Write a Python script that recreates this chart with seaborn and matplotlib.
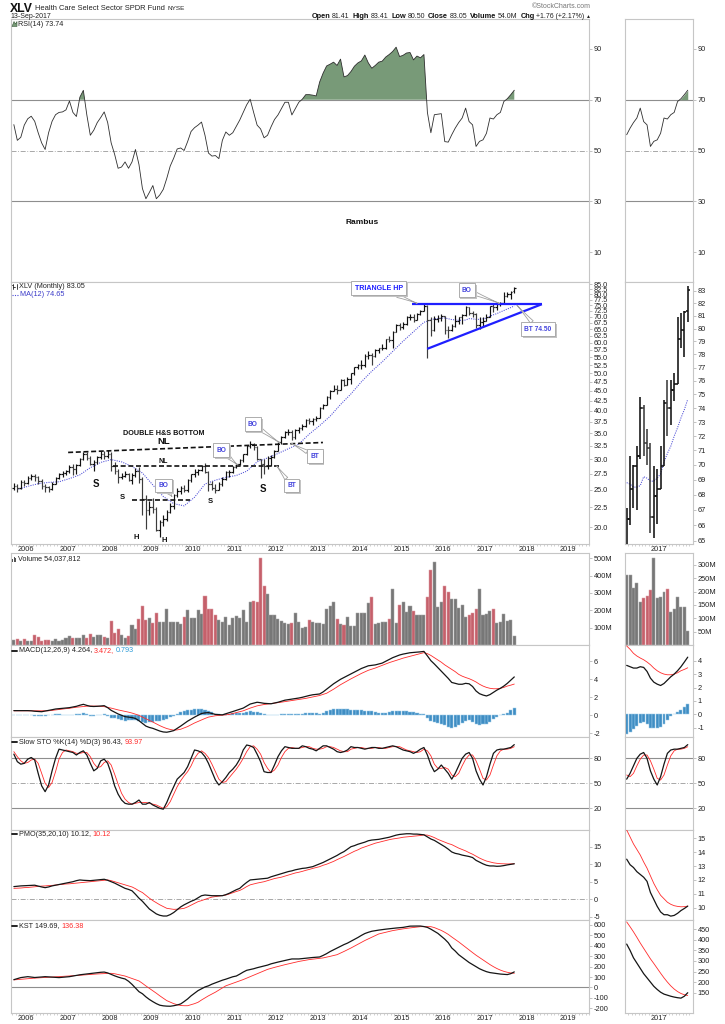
import numpy as np
import pandas as pd
import matplotlib
matplotlib.use("Agg")
import matplotlib.pyplot as plt
import matplotlib.ticker as mticker
import matplotlib.patheffects as pe
from matplotlib.lines import Line2D
from matplotlib.patches import Polygon, Rectangle
import seaborn as sns

sns.set_theme(style="white")
plt.rcParams["font.family"] = ["Liberation Sans", "DejaVu Sans"]
plt.rcParams["axes.linewidth"] = 0.8

# ---------------- data (monthly, Sep 2005 .. Sep 2017) ----------------
start_month = "2005-09"

open_ = [25.3, 25.6, 25.2, 26.2,
         26.0, 26.8, 27.1, 26.9, 26.3, 25.5, 25.4, 25.1, 25.9, 26.8, 27.4, 27.6,
         27.9, 28.6, 28.3, 29.0, 30.0, 30.9, 30.2, 29.2, 29.5, 30.3, 31.0, 30.6,
         31.0, 28.8, 28.0, 26.9, 27.1, 27.4, 26.4, 27.2, 28.0, 26.7, 23.6, 22.2,
         22.6, 22.3, 19.7, 20.6, 21.0, 21.9, 22.7, 24.2, 24.8, 25.3, 24.9, 26.5,
         27.4, 27.8, 28.1, 28.8, 27.8, 25.8, 25.2, 25.0, 25.9, 26.7, 27.7, 27.8,
         28.6, 29.1, 29.8, 30.9, 32.5, 32.8, 32.2, 30.0, 29.2, 28.8, 30.2, 30.4,
         31.5, 33.2, 34.3, 35.2, 35.3, 34.2, 35.6, 36.0, 36.6, 37.8, 37.6, 38.0,
         38.4, 40.6, 41.5, 43.5, 45.0, 45.6, 45.3, 48.0, 46.5, 48.2, 50.0, 51.8,
         52.5, 52.5, 55.5, 55.8, 55.3, 57.5, 58.0, 58.0, 61.2, 61.0, 64.0, 66.8,
         65.8, 67.2, 69.8, 70.0, 68.8, 71.0, 72.6, 74.5, 68.6, 64.6, 69.2, 69.6,
         70.3, 64.8, 64.7, 66.4, 68.4, 69.9, 70.6, 74.0, 71.5, 71.2, 66.5, 67.9,
         68.4, 69.9, 74.4, 74.0, 75.3, 75.8, 79.2, 79.9, 81.41]
high = [26.0, 25.9, 26.4, 26.5,
        27.1, 27.4, 27.4, 27.1, 26.6, 25.8, 25.6, 26.1, 27.0, 27.6, 27.9, 28.1,
        28.9, 29.1, 29.2, 30.2, 31.3, 31.2, 30.5, 29.8, 30.5, 31.5, 31.4, 31.6,
        31.2, 29.4, 28.3, 27.6, 28.0, 27.6, 27.6, 28.4, 28.6, 27.0, 24.2, 23.3,
        23.8, 22.6, 20.9, 21.5, 22.2, 23.1, 24.4, 25.3, 25.5, 25.7, 26.6, 27.5,
        28.2, 28.3, 29.0, 29.3, 28.0, 26.3, 25.8, 26.2, 26.9, 27.9, 28.1, 28.7,
        29.2, 30.0, 31.0, 32.6, 33.4, 33.0, 32.4, 30.0, 30.0, 30.6, 30.8, 31.7,
        33.3, 34.5, 35.4, 35.8, 35.6, 35.8, 36.2, 36.9, 38.0, 38.2, 38.2, 38.7,
        40.8, 41.7, 43.6, 45.3, 46.7, 46.5, 48.2, 48.4, 48.9, 50.2, 51.9, 52.8,
        54.2, 55.9, 57.0, 56.5, 57.6, 58.2, 59.4, 61.3, 62.4, 64.2, 67.0, 67.5,
        67.8, 70.2, 71.2, 71.0, 71.6, 73.0, 75.6, 75.0, 69.8, 70.3, 70.8, 71.0,
        70.4, 66.2, 67.1, 70.6, 70.0, 71.3, 74.8, 74.2, 72.5, 71.5, 69.9, 69.7,
        71.3, 74.6, 76.1, 76.1, 76.6, 80.9, 81.2, 81.4, 83.41]
low = [24.9, 24.6, 25.1, 25.6,
       25.9, 26.5, 26.3, 25.9, 25.1, 24.7, 24.6, 25.0, 25.8, 26.6, 27.0, 27.3,
       27.6, 27.2, 27.4, 28.8, 29.9, 29.8, 28.9, 28.0, 29.1, 30.0, 30.0, 30.2,
       27.9, 27.5, 26.0, 26.6, 26.9, 26.3, 25.9, 27.0, 26.0, 21.5, 19.8, 21.5,
       21.8, 19.6, 18.9, 20.1, 20.7, 21.7, 22.3, 24.0, 24.4, 24.7, 24.7, 26.2,
       27.0, 27.2, 27.9, 27.6, 24.8, 25.0, 24.5, 25.0, 25.6, 26.5, 26.9, 27.6,
       28.4, 28.9, 29.4, 30.8, 32.1, 31.7, 29.9, 26.8, 27.5, 28.3, 28.7, 30.2,
       31.4, 32.9, 34.0, 34.6, 33.5, 33.7, 35.0, 35.6, 36.4, 37.0, 36.8, 37.6,
       38.4, 40.3, 41.3, 42.8, 45.0, 44.2, 45.2, 46.4, 46.5, 46.9, 49.6, 51.2,
       51.4, 51.8, 54.3, 52.4, 55.0, 56.4, 57.5, 57.6, 60.3, 58.0, 63.8, 64.6,
       64.9, 66.6, 68.5, 68.0, 68.7, 70.7, 72.2, 54.8, 62.3, 64.2, 68.0, 68.2,
       63.0, 61.6, 64.3, 66.0, 67.1, 67.0, 70.4, 70.6, 70.0, 65.5, 65.2, 66.1,
       68.4, 69.9, 72.0, 72.8, 74.5, 75.8, 78.5, 77.8, 80.50]
close = [25.6, 25.2, 26.2, 26.0,
         26.8, 27.1, 26.9, 26.3, 25.5, 25.4, 25.1, 25.9, 26.8, 27.4, 27.6, 27.9,
         28.6, 28.3, 29.0, 30.0, 30.9, 30.2, 29.2, 29.5, 30.3, 31.0, 30.6, 31.0,
         28.8, 28.0, 26.9, 27.1, 27.4, 26.4, 27.2, 28.0, 26.7, 23.6, 22.2, 22.6,
         22.3, 19.7, 20.6, 21.0, 21.9, 22.7, 24.2, 24.8, 25.3, 24.9, 26.5, 27.4,
         27.8, 28.1, 28.8, 27.8, 25.8, 25.2, 25.0, 25.9, 26.7, 27.7, 27.8, 28.6,
         29.1, 29.8, 30.9, 32.5, 32.8, 32.2, 30.0, 29.2, 28.8, 30.2, 30.4, 31.5,
         33.2, 34.3, 35.2, 35.3, 34.2, 35.6, 36.0, 36.6, 37.8, 37.6, 38.0, 38.4,
         40.6, 41.5, 43.5, 45.0, 45.6, 45.3, 48.0, 46.5, 48.2, 50.0, 51.8, 52.5,
         52.5, 55.5, 55.8, 55.3, 57.5, 58.0, 58.0, 61.2, 61.0, 64.0, 66.8, 65.8,
         67.2, 69.8, 70.0, 68.8, 71.0, 72.6, 74.5, 68.6, 64.6, 69.2, 69.6, 70.3,
         64.8, 64.7, 66.4, 68.4, 69.9, 70.6, 74.0, 71.5, 71.2, 66.5, 67.9, 68.4,
         69.9, 74.4, 74.0, 75.3, 75.8, 79.2, 79.9, 81.3, 83.05]
volume_m = [28, 32, 25, 34,
            22, 24, 55, 45, 24, 30, 28, 22, 35, 24, 30, 40,
            50, 42, 40, 42, 55, 40, 62, 45, 55, 60, 45, 40,
            140, 72, 90, 55, 38, 52, 118, 92, 150, 222, 145, 155,
            125, 182, 130, 135, 205, 135, 135, 130, 120, 160, 200, 155,
            158, 200, 180, 280, 205, 205, 175, 145, 130, 160, 115, 155,
            165, 155, 200, 135, 250, 255, 245, 500, 340, 295, 170, 172,
            150, 140, 125, 120, 125, 185, 135, 100, 105, 145, 130, 125,
            128, 120, 205, 225, 250, 150, 120, 115, 160, 108, 110, 185,
            185, 185, 240, 275, 120, 125, 130, 133, 150, 325, 125, 230,
            250, 190, 225, 195, 170, 175, 175, 275, 430, 480, 220, 245,
            340, 305, 263, 263, 214, 233, 159, 174, 184, 205, 325, 174,
            178, 198, 208, 125, 135, 178, 141, 143, 54.04]

# 12-month moving average (read at quarterly points, monthly at the end)
ma_month = ["2005-10", "2006-01", "2006-04", "2006-07", "2006-10", "2007-01", "2007-04",
            "2007-07", "2007-10", "2008-01", "2008-04", "2008-07", "2008-10", "2009-01",
            "2009-04", "2009-07", "2009-10", "2010-01", "2010-04", "2010-07", "2010-10",
            "2011-01", "2011-04", "2011-07", "2011-10", "2012-01", "2012-04", "2012-07",
            "2012-10", "2013-01", "2013-04", "2013-07", "2013-10", "2014-01", "2014-04",
            "2014-07", "2014-10", "2015-01", "2015-04", "2015-07", "2015-10", "2016-01",
            "2016-03", "2016-04", "2016-05", "2016-06", "2016-07", "2016-08", "2016-09",
            "2016-10", "2016-11", "2016-12", "2017-01", "2017-02", "2017-03", "2017-04",
            "2017-05", "2017-06", "2017-07", "2017-08", "2017-09"]
ma_value = [25.0, 25.5, 25.9, 26.1, 26.2, 26.7, 27.3,
            28.5, 29.4, 29.9, 29.5, 28.7, 27.6, 25.7,
            24.0, 23.0, 22.7, 23.9, 25.85, 26.45, 26.9,
            27.2, 27.9, 29.5, 30.2, 31.0, 31.9, 32.8,
            34.8, 36.6, 38.7, 41.5, 44.2, 47.5, 50.6,
            53.5, 56.9, 60.5, 64.0, 67.7, 69.1, 69.5,
            68.8, 68.7, 68.5, 68.5, 68.6, 69.2, 69.1,
            68.9, 68.9, 69.1, 69.4, 70.2, 70.8, 71.3,
            72.0, 72.6, 73.3, 73.9, 74.65]

rsi = [60.2, 54.0, 55.2, 60.0, 62.5, 63.5, 61.5, 57.0, 53.0, 50.4, 57.0, 61.5,
       64.1, 65.0, 65.2, 66.0, 69.5, 65.0, 63.4, 71.0, 73.7, 64.0, 56.0, 58.0,
       61.0, 63.0, 65.2, 61.0, 53.0, 48.5, 43.0, 43.5, 45.5, 43.0, 45.5, 50.4,
       44.5, 35.0, 31.0, 33.5, 36.2, 31.0, 32.5, 34.7, 39.0, 43.9, 47.0, 50.6,
       51.0, 50.0, 53.5, 57.5, 59.0, 60.0, 61.2, 56.0, 49.0, 47.8, 48.0, 46.8,
       54.0, 57.3, 56.0, 57.0, 59.5, 62.0, 65.0, 68.0, 70.2, 65.0, 60.0, 58.5,
       55.0, 56.0, 59.3, 62.2, 64.0, 66.5, 69.0, 69.0, 64.0, 66.5, 69.0, 70.2,
       72.0, 72.0, 71.8, 71.5, 77.0, 80.5, 83.3, 84.0, 84.8, 83.5, 86.0, 79.0,
       79.5, 81.1, 83.2, 84.5, 85.3, 87.6, 84.5, 82.4, 83.5, 84.8, 85.2, 86.8,
       87.8, 89.0, 90.7, 87.0, 87.5, 88.4, 88.6, 85.7, 87.2, 86.5, 87.8, 65.0,
       57.0, 64.1, 64.3, 64.5, 53.5, 53.3, 56.2, 58.8, 61.0, 62.8, 66.7, 61.4,
       60.1, 51.6, 53.6, 54.2, 56.8, 62.8, 62.4, 64.1, 65.0, 69.3, 70.4, 72.0,
       73.74]

macd = [0.52, 0.52, 0.52, 0.52, 0.52, 0.50, 0.45, 0.42, 0.40, 0.47, 0.55, 0.62,
        0.70, 0.74, 0.78, 0.82, 0.85, 0.92, 1.00, 1.12, 1.22, 1.10, 1.00, 0.98,
        1.00, 1.04, 1.07, 0.85, 0.55, 0.35, 0.15, 0.00, -0.15, -0.20, -0.25, -0.35,
        -0.60, -0.90, -1.20, -1.35, -1.45, -1.60, -1.75, -1.85, -1.88, -1.80, -1.70, -1.45,
        -1.20, -0.92, -0.65, -0.42, -0.20, 0.00, 0.20, 0.27, 0.30, 0.20, 0.10, 0.07,
        0.05, 0.17, 0.30, 0.42, 0.55, 0.68, 0.80, 1.02, 1.25, 1.35, 1.45, 1.40,
        1.33, 1.30, 1.28, 1.36, 1.45, 1.56, 1.68, 1.74, 1.80, 1.86, 1.92, 2.00,
        2.10, 2.20, 2.28, 2.33, 2.37, 2.60, 2.90, 3.20, 3.50, 3.75, 4.00, 4.20,
        4.40, 4.60, 4.80, 5.00, 5.20, 5.35, 5.50, 5.55, 5.60, 5.70, 5.80, 6.00,
        6.20, 6.40, 6.55, 6.70, 6.80, 6.88, 6.95, 6.98, 7.00, 7.05, 7.10, 6.60,
        6.07, 5.70, 5.30, 4.90, 4.50, 4.10, 3.65, 3.55, 3.45, 3.45, 3.55, 3.50,
        3.20, 2.70, 2.40, 2.25, 2.15, 2.30, 2.55, 2.80, 3.00, 3.25, 3.55, 3.90,
        4.264]
macd_signal = [0.50, 0.50, 0.50, 0.50, 0.50, 0.50, 0.50, 0.50, 0.50, 0.50, 0.50, 0.55,
               0.60, 0.65, 0.70, 0.74, 0.78, 0.84, 0.90, 0.94, 0.98, 1.01, 1.03, 1.03,
               1.02, 0.99, 0.96, 0.88, 0.80, 0.70, 0.60, 0.52, 0.45, 0.35, 0.25, 0.12,
               0.00, -0.20, -0.38, -0.56, -0.75, -0.95, -1.15, -1.32, -1.47, -1.57, -1.65, -1.62,
               -1.55, -1.40, -1.25, -1.05, -0.85, -0.68, -0.50, -0.35, -0.20, -0.12, -0.05, -0.02,
               0.00, 0.05, 0.10, 0.20, 0.30, 0.40, 0.50, 0.65, 0.80, 0.93, 1.05, 1.13,
               1.20, 1.25, 1.30, 1.35, 1.40, 1.46, 1.52, 1.58, 1.65, 1.70, 1.75, 1.82,
               1.88, 1.96, 2.05, 2.12, 2.20, 2.32, 2.45, 2.67, 2.90, 3.15, 3.40, 3.62,
               3.85, 4.05, 4.25, 4.45, 4.65, 4.82, 5.00, 5.12, 5.25, 5.40, 5.55, 5.70,
               5.85, 5.97, 6.10, 6.22, 6.35, 6.45, 6.55, 6.65, 6.75, 6.85, 6.96, 6.85,
               6.65, 6.40, 6.15, 5.90, 5.60, 5.35, 5.10, 4.85, 4.55, 4.35, 4.20, 4.07,
               3.90, 3.70, 3.45, 3.25, 3.10, 3.00, 2.95, 2.95, 3.00, 3.10, 3.25, 3.35,
               3.472]
macd_hist = [0.02, 0.02, 0.02, 0.02, 0.02, 0.00, -0.05, -0.08, -0.10, -0.03, 0.05, 0.07,
             0.10, 0.09, 0.08, 0.08, 0.07, 0.08, 0.10, 0.18, 0.24, 0.09, -0.03, -0.05,
             -0.02, 0.05, 0.11, -0.03, -0.25, -0.35, -0.45, -0.52, -0.60, -0.55, -0.50, -0.52,
             -0.60, -0.70, -0.82, -0.79, -0.70, -0.65, -0.60, -0.53, -0.41, -0.23, -0.05, 0.17,
             0.35, 0.48, 0.60, 0.63, 0.65, 0.68, 0.70, 0.62, 0.50, 0.32, 0.15, 0.09,
             0.05, 0.12, 0.20, 0.22, 0.25, 0.28, 0.30, 0.37, 0.45, 0.42, 0.40, 0.27,
             0.13, 0.05, -0.02, 0.01, 0.05, 0.10, 0.16, 0.16, 0.15, 0.16, 0.17, 0.18,
             0.22, 0.24, 0.23, 0.21, 0.17, 0.28, 0.45, 0.60, 0.70, 0.75, 0.75, 0.70,
             0.65, 0.62, 0.60, 0.58, 0.58, 0.53, 0.50, 0.43, 0.35, 0.30, 0.25, 0.30,
             0.35, 0.43, 0.45, 0.48, 0.45, 0.43, 0.40, 0.33, 0.25, 0.20, 0.14, -0.25,
             -0.58, -0.70, -0.85, -1.00, -1.10, -1.25, -1.45, -1.30, -1.10, -0.90, -0.65, -0.57,
             -0.70, -1.00, -1.05, -1.00, -0.95, -0.70, -0.40, -0.15, 0.00, 0.15, 0.30, 0.55,
             0.793]

sto_k = [85, 76, 73, 74, 79, 81, 78, 62, 47, 40, 48, 65,
         80, 91, 90, 89, 88, 87, 84, 87, 89, 84, 74, 65,
         68, 77, 79, 74, 62, 47, 37, 30, 26, 25, 25, 27,
         30, 25, 25, 27, 24, 22, 20, 19, 27, 37, 46, 55,
         59, 63, 70, 80, 90, 89, 87, 82, 74, 64, 54, 48,
         52, 57, 63, 67, 72, 79, 90, 96, 95, 93, 85, 76,
         64, 63, 63, 72, 82, 89, 94, 93, 92, 92, 92, 95,
         94, 92, 91, 89, 92, 95, 95, 93, 91, 88, 87, 88,
         90, 94, 93, 93, 92, 91, 92, 93, 93, 92, 92, 93,
         94, 95, 94, 92, 90, 89, 88, 86, 88, 91, 93, 84,
         72, 64, 67, 72, 67, 62, 55, 62, 71, 80, 85, 87,
         80, 65, 55, 48, 58, 73, 86, 90, 91, 91, 92, 93,
         96.43]
sto_d = [88, 82, 77, 74, 75, 78, 79, 74, 62, 50, 45, 51,
         64, 79, 87, 90, 89, 88, 86, 86, 87, 87, 82, 74,
         69, 70, 75, 77, 72, 61, 49, 38, 31, 27, 25, 26,
         27, 27, 27, 26, 25, 24, 22, 20, 22, 28, 37, 46,
         53, 59, 64, 71, 80, 86, 89, 86, 81, 73, 64, 55,
         51, 52, 57, 62, 67, 73, 80, 88, 94, 95, 91, 85,
         75, 68, 63, 66, 72, 81, 88, 92, 93, 92, 92, 93,
         94, 94, 92, 91, 91, 92, 94, 94, 93, 91, 89, 88,
         88, 91, 92, 93, 93, 92, 92, 92, 93, 93, 92, 92,
         93, 94, 94, 94, 92, 90, 89, 88, 87, 88, 91, 89,
         83, 73, 68, 68, 69, 67, 60, 58, 62, 71, 79, 84,
         84, 77, 67, 56, 54, 60, 72, 83, 89, 91, 91, 92,
         93.97]

pmo = [3.6, 3.7, 3.8, 3.85, 3.9, 3.95, 4.0, 3.75, 3.5, 3.3, 3.5, 3.8,
       4.0, 4.2, 4.4, 4.6, 4.8, 5.0, 5.3, 5.5, 5.4, 5.35, 5.3, 5.4,
       5.5, 5.6, 5.7, 5.4, 5.0, 4.6, 4.1, 3.6, 3.1, 2.8, 2.4, 1.4,
       0.3, -0.6, -1.7, -2.8, -3.5, -4.2, -4.6, -4.8, -4.8, -4.4, -3.8, -3.0,
       -2.2, -1.6, -1.1, -0.6, -0.2, 0.4, 1.0, 1.2, 1.1, 1.0, 1.0, 1.0,
       1.0, 1.3, 1.7, 2.2, 2.7, 3.1, 4.0, 4.8, 5.5, 5.6, 5.7, 5.8,
       5.9, 6.0, 6.4, 6.7, 7.0, 7.3, 7.6, 7.9, 8.1, 8.4, 8.6, 8.8,
       8.9, 9.1, 9.3, 9.7, 10.1, 10.5, 11.0, 11.5, 12.0, 12.5, 13.1, 13.6,
       14.3, 15.0, 15.3, 15.7, 16.0, 16.3, 16.7, 16.9, 17.0, 17.1, 17.3, 17.5,
       17.7, 18.0, 18.3, 18.5, 18.6, 18.7, 18.7, 18.6, 18.6, 18.5, 18.4, 17.8,
       17.2, 16.8, 16.2, 15.6, 15.0, 14.3, 13.5, 13.1, 12.9, 12.6, 12.4, 12.2,
       11.9, 11.1, 10.6, 10.1, 9.7, 9.5, 9.5, 9.4, 9.45, 9.6, 9.8, 9.95,
       10.12]
pmo_signal = [3.1, 3.15, 3.2, 3.3, 3.35, 3.45, 3.55, 3.65, 3.75, 3.8, 3.9, 3.95,
              4.05, 4.15, 4.25, 4.35, 4.4, 4.5, 4.6, 4.7, 4.8, 4.9, 5.0, 5.1,
              5.2, 5.3, 5.4, 5.5, 5.3, 5.0, 4.7, 4.4, 4.1, 3.8, 3.5, 3.0,
              2.4, 1.9, 1.1, 0.3, -0.4, -1.0, -1.6, -2.1, -2.6, -2.75, -2.9, -2.85,
              -2.75, -2.6, -2.2, -1.7, -1.2, -0.7, -0.4, -0.05, 0.3, 0.6, 0.75, 0.9,
              1.05, 1.2, 1.5, 1.85, 2.2, 2.5, 3.0, 3.6, 4.1, 4.35, 4.6, 4.8,
              5.0, 5.3, 5.6, 5.9, 6.1, 6.3, 6.6, 6.9, 7.2, 7.5, 7.7, 7.95,
              8.25, 8.5, 8.8, 9.05, 9.3, 9.7, 10.0, 10.4, 10.8, 11.3, 11.75, 12.2,
              12.7, 13.2, 13.7, 14.1, 14.6, 14.95, 15.3, 15.65, 16.0, 16.25, 16.5, 16.75,
              17.0, 17.2, 17.35, 17.5, 17.7, 17.8, 17.9, 18.0, 18.1, 18.2, 18.35, 18.3,
              18.0, 17.6, 17.1, 16.7, 16.3, 15.9, 15.6, 15.1, 14.6, 14.2, 13.8, 13.3,
              12.85, 12.3, 11.75, 11.3, 10.9, 10.65, 10.4, 10.25, 10.15, 10.1, 10.07, 10.08,
              10.12]

kst = [75, 85, 95, 100, 104, 100, 96, 98, 101, 104, 102, 99,
       97, 95, 98, 101, 104, 110, 116, 122, 126, 130, 134, 138,
       142, 146, 148, 140, 126, 112, 100, 90, 82, 60, 30, -5,
       -40, -60, -90, -115, -136, -155, -170, -176, -179, -180, -175, -168,
       -158, -135, -110, -80, -55, -30, -12, 5, 16, 32, 45, 58,
       70, 80, 92, 103, 110, 128, 148, 165, 172, 180, 190, 198,
       205, 215, 227, 236, 244, 252, 260, 267, 274, 274, 274, 277,
       281, 285, 288, 290, 293, 308, 325, 345, 362, 379, 397, 412,
       426, 444, 462, 480, 500, 518, 530, 540, 546, 551, 556, 560,
       564, 568, 571, 574, 577, 583, 589, 590, 590, 590, 585, 577,
       560, 540, 520, 492, 464, 430, 380, 350, 315, 290, 265, 240,
       220, 200, 180, 165, 152, 143, 138, 133, 129, 126, 124, 133,
       149.69]
kst_signal = [73, 76, 79, 82, 85, 88, 90, 92, 94, 95, 97, 99,
              101, 103, 105, 108, 110, 112, 115, 118, 120, 122, 125, 128,
              130, 132, 134, 135, 136, 132, 125, 117, 110, 98, 85, 75,
              63, 40, 15, -8, -32, -55, -80, -103, -126, -140, -155, -165,
              -173, -175, -175, -165, -155, -142, -120, -100, -80, -63, -45, -25,
              -5, 16, 28, 40, 52, 63, 76, 90, 103, 117, 132, 146,
              160, 174, 184, 193, 202, 211, 219, 227, 235, 243, 250, 256,
              262, 268, 272, 276, 280, 284, 291, 299, 307, 315, 330, 346,
              362, 379, 397, 415, 433, 451, 467, 483, 499, 514, 522, 530,
              538, 546, 552, 557, 563, 568, 572, 576, 580, 584, 584, 584,
              584, 575, 562, 548, 530, 510, 485, 462, 438, 412, 385, 360,
              335, 310, 288, 265, 242, 220, 200, 182, 167, 155, 146, 140,
              136.38]

years = list(range(2006, 2020))
price_ticks = [20.0 + 2.5 * k for k in range(27)]
price_ticks_r = list(range(65, 84))

# ---------------- derived positions ----------------
n = len(close)
months = pd.period_range(start_month, periods=n, freq="M")
t = months.year.values + (months.month.values - 1) / 12.0 + 1 / 24.0
mp = pd.PeriodIndex(ma_month, freq="M")
ma_t = mp.year.values + (mp.month.values - 1) / 12.0 + 1 / 24.0

df = pd.DataFrame(dict(tt=t, op=open_, hi=high, lo=low, cl=close, vol=volume_m, rsi=rsi,
                       macd=macd, sig=macd_signal, mh=macd_hist, sk=sto_k, sd=sto_d,
                       pmo=pmo, pmos=pmo_signal, kst=kst, ksts=kst_signal))
prev = np.r_[df["op"].values[0], df["cl"].values[:-1]]
up = df["cl"].values >= prev
bar_col = np.where(up, "#111111", "#3c3c3c")
vol_col = np.where(up, "#777777", "#c5606b")
vol_edge = np.where(up, "#a5a5a5", "#e0a0a6")

R0 = int(np.where(months == pd.Period("2016-03", "M"))[0][0])
dfr = df.iloc[R0:]
ma_r = ma_t >= dfr["tt"].values[0] - 0.01

# ---------------- figure / layout ----------------
W, H = 725, 1024
fig = plt.figure(figsize=(W / 100, H / 100), dpi=100)
fig.patch.set_facecolor("white")
renderer = fig.canvas.get_renderer()


def add_ax(l, tp, r, b):
    return fig.add_axes([l / W, 1 - b / H, (r - l) / W, (b - tp) / H])


L, R = 11, 589
RL, RR = 625, 692.7
rows = dict(rsi=(19, 282), price=(282, 544), vol=(553, 645), macd=(645, 737),
            sto=(737, 830), pmo=(830, 920), kst=(920, 1012.7))
XL = (2005.64, 2019.5)
XR = (2016.167, 2017.83)

axm, axr = {}, {}
for key, (tp, b) in rows.items():
    axm[key] = add_ax(L, tp, R, b)
    axr[key] = add_ax(RL, tp, RR, b)

LAB = dict(labelsize=5.3, labelcolor="#222222")


def style(ax, xlim, ylim, ticks, labels, log=False):
    if log:
        ax.set_yscale("log")
    ax.set_xlim(*xlim)
    ax.set_ylim(*ylim)
    ax.yaxis.tick_right()
    ax.yaxis.set_major_locator(mticker.FixedLocator(ticks))
    ax.yaxis.set_major_formatter(mticker.FixedFormatter(labels))
    ax.yaxis.set_minor_locator(mticker.NullLocator())
    ax.yaxis.set_minor_formatter(mticker.NullFormatter())
    ax.tick_params(axis="y", which="major", right=True, left=False, direction="out",
                   length=2, width=0.5, color="#aaaaaa", pad=1.5, **LAB)
    ax.tick_params(axis="x", which="both", bottom=False, top=False, labelbottom=False)
    ax.set_xticks([])
    ax.set_xlabel("")
    ax.set_ylabel("")
    for s in ax.spines.values():
        s.set_color("#c6c6c6")
        s.set_linewidth(0.8)
    ax.set_facecolor("white")


def xlabels(ax, ticks, labels, xlim):
    minor = [y0 + m / 12 for y0 in range(int(xlim[0]), int(xlim[1]) + 1) for m in range(12)
             if xlim[0] <= y0 + m / 12 <= xlim[1]]
    ax.xaxis.set_major_locator(mticker.FixedLocator(ticks))
    ax.xaxis.set_major_formatter(mticker.FixedFormatter(labels))
    ax.xaxis.set_minor_locator(mticker.FixedLocator(minor))
    ax.tick_params(axis="x", which="major", bottom=True, length=0, labelbottom=True,
                   pad=1.4, **LAB)
    ax.tick_params(axis="x", which="minor", bottom=True, length=1.6, width=0.5,
                   color="#bdbdbd", direction="out")


def line(ax, x, y, color, lw, **kw):
    sns.lineplot(x=x, y=y, ax=ax, color=color, lw=lw, estimator=None, errorbar=None,
                 legend=False, **kw)


def hl(ax, y, style="solid"):
    if style == "solid":
        ax.axhline(y, color="#8e8e8e", lw=0.8, zorder=1)
    else:
        ax.axhline(y, color="#9a9a9a", lw=0.6, dashes=(6, 2, 1, 2), zorder=1)


BLACK, RED = "#151515", "#ff2b2b"

# ---- RSI ----
for ax, d, xl in ((axm["rsi"], df, XL), (axr["rsi"], dfr, XR)):
    x, y = d["tt"].values, d["rsi"].values
    hl(ax, 70)
    hl(ax, 30)
    hl(ax, 50, "dd")
    ax.fill_between(x, y, 70, where=y > 70, interpolate=True, color="#789a78", lw=0, zorder=2)
    line(ax, x, y, "#2e2e2e", 0.6, zorder=3)
    style(ax, xl, (-1.8, 101.8), [10, 30, 50, 70, 90], ["10", "30", "50", "70", "90"])


# ---- Price ----
def ohlc(ax, d, tick, lw):
    x = d["tt"].values
    cols = bar_col[d.index.values]
    ax.vlines(x, d["lo"].values, d["hi"].values, colors=cols, lw=lw, zorder=3)
    ax.hlines(d["op"].values, x - tick, x, colors=cols, lw=lw, zorder=3)
    ax.hlines(d["cl"].values, x, x + tick, colors=cols, lw=lw, zorder=3)


ax = axm["price"]
ohlc(ax, df, 0.038, 0.85)
line(ax, ma_t, np.array(ma_value), "#4a4ad6", 0.75, linestyle=(0, (1, 1.2)), zorder=2)
style(ax, XL, (18.09, 86.05), price_ticks, ["%.1f" % v for v in price_ticks], log=True)
xlabels(ax, years, [str(y) for y in years], XL)

axp_r = axr["price"]
ohlc(axp_r, dfr, 0.045, 1.15)
line(axp_r, ma_t[ma_r], np.array(ma_value)[ma_r], "#4a4ad6", 0.75,
     linestyle=(0, (1, 1.2)), zorder=2)
style(axp_r, XR, (64.79, 83.73), price_ticks_r, [str(v) for v in price_ticks_r], log=True)
xlabels(axp_r, [2017], ["2017"], XR)

# ---- annotations on price chart ----
K = "#111111"
ax.plot([2007.01, 2013.12], [31.2, 33.1], color=K, lw=1.2, dashes=(3, 1.6), zorder=4)
ax.plot([2008.09, 2012.09], [28.8, 28.8], color=K, lw=1.2, dashes=(3, 1.6), zorder=4)
ax.plot([2008.53, 2009.93], [23.5, 23.5], color=K, lw=1.2, dashes=(3, 1.6), zorder=4)
ax.text(2009.31, 35.0, "DOUBLE H&S BOTTOM", ha="center", va="center", fontsize=5.2,
        fontweight="bold", color=K)
ax.text(2009.31, 33.2, "NL", ha="center", va="center", fontsize=6.8, fontweight="bold", color=K)
ax.text(2009.28, 29.6, "NL", ha="center", va="center", fontsize=5.0, fontweight="bold", color=K)
for (xx, yy, s, fs) in [(2007.67, 25.9, "S", 7.0), (2008.32, 23.8, "S", 5.5),
                        (2008.65, 18.8, "H", 5.5), (2009.31, 18.45, "H", 5.5),
                        (2010.41, 23.3, "S", 5.5), (2011.67, 25.1, "S", 7.0)]:
    ax.text(xx, yy, s, ha="center", va="center", fontsize=fs, fontweight="bold", color=K)

# triangle
TB = "#1f1fff"
ax.plot([2015.25, 2018.37], [75.5, 75.5], color=TB, lw=1.6, zorder=5, solid_capstyle="butt")
ax.plot([2015.62, 2018.37], [57.8, 75.4], color=TB, lw=1.6, zorder=5, solid_capstyle="butt")


def callout(text, xy, xytext, fs=4.8, color="#4545dd"):
    a = ax.annotate(text, xy=xy, xytext=xytext, xycoords="data", textcoords="data",
                    ha="center", va="center", fontsize=fs, color=color, fontweight="bold",
                    zorder=6,
                    bbox=dict(boxstyle="square,pad=0.5", fc="white", ec="#a0a0a0", lw=0.6),
                    arrowprops=dict(arrowstyle="wedge,tail_width=0.55,shrink_factor=0.35",
                                    fc="white", ec="#a0a0a0", lw=0.6, shrinkA=0, shrinkB=0))
    a.get_bbox_patch().set_path_effects([pe.SimplePatchShadow(offset=(1.2, -1.2),
                                                              shadow_rgbFace="#c4c4c4", alpha=1),
                                         pe.Normal()])


callout("BO", (2009.50, 24.0), (2009.30, 25.6))
callout("BO", (2011.07, 28.96), (2010.68, 31.6))
callout("BO", (2012.09, 33.0), (2011.44, 36.9))
callout("BT", (2012.37, 32.9), (2012.93, 30.5))
callout("BT", (2012.01, 28.8), (2012.37, 25.6))
callout("TRIANGLE HP", (2015.38, 75.8), (2014.46, 82.9), fs=5.1, color="#1f1fff")
callout("BO", (2017.35, 75.8), (2016.57, 81.9))
callout("BT 74.50", (2017.77, 75.0), (2018.28, 65.0))

# ---- Volume ----
for ax_, d, xl, top, ticks in ((axm["vol"], df, XL, 530, [100, 200, 300, 400, 500]),
                               (axr["vol"], dfr, XR, 344, [50, 100, 150, 200, 250, 300])):
    idx = d.index.values
    ax_.bar(d["tt"].values, d["vol"].values, width=0.88 / 12, color=vol_col[idx],
            edgecolor=vol_edge[idx], lw=0.35, zorder=2)
    style(ax_, xl, (0, top), ticks, ["%dM" % v for v in ticks])

# ---- MACD ----
for ax_, d, xl, yl, ticks in ((axm["macd"], df, XL, (-2.41, 7.81), [-2, 0, 2, 4, 6]),
                              (axr["macd"], dfr, XR, (-1.69, 5.17), [-1, 0, 1, 2, 3, 4])):
    ax_.bar(d["tt"].values, d["mh"].values, width=0.88 / 12, color="#3f8dc3",
            edgecolor="#9ccbea", lw=0.35, zorder=2)
    line(ax_, d["tt"].values, d["sig"].values, RED, 0.6, zorder=3)
    line(ax_, d["tt"].values, d["macd"].values, BLACK, 0.9, zorder=4)
    style(ax_, xl, yl, ticks, [str(v) for v in ticks])

# ---- Slow STO ----
for ax_, d, xl in ((axm["sto"], df, XL), (axr["sto"], dfr, XR)):
    hl(ax_, 80)
    hl(ax_, 20)
    hl(ax_, 50, "dd")
    line(ax_, d["tt"].values, d["sd"].values, RED, 0.6, zorder=3)
    line(ax_, d["tt"].values, d["sk"].values, BLACK, 0.9, zorder=4)
    style(ax_, xl, (-6.0, 105.6), [20, 50, 80], ["20", "50", "80"])

# ---- PMO ----
for ax_, d, xl, yl, ticks in ((axm["pmo"], df, XL, (-5.94, 19.77), [-5, 0, 5, 10, 15]),
                              (axr["pmo"], dfr, XR, (9.12, 15.6), [10, 11, 12, 13, 14, 15])):
    if ax_ is axm["pmo"]:
        hl(ax_, 0, "dd")
    line(ax_, d["tt"].values, d["pmos"].values, RED, 0.6, zorder=3)
    line(ax_, d["tt"].values, d["pmo"].values, BLACK, 0.9, zorder=4)
    style(ax_, xl, yl, ticks, [str(v) for v in ticks])

# ---- KST ----
for ax_, d, xl, yl, ticks in ((axm["kst"], df, XL, (-242, 648), list(range(-200, 601, 100))),
                              (axr["kst"], dfr, XR, (55, 494), list(range(150, 451, 50)))):
    if ax_ is axm["kst"]:
        hl(ax_, 0)
    line(ax_, d["tt"].values, d["ksts"].values, RED, 0.6, zorder=3)
    line(ax_, d["tt"].values, d["kst"].values, BLACK, 0.9, zorder=4)
    style(ax_, xl, yl, ticks, [str(v) for v in ticks])
xlabels(axm["kst"], years, [str(y) for y in years], XL)
xlabels(axr["kst"], [2017], ["2017"], XR)


# ---------------- texts ----------------
def seq(x0, yc, pieces, align="left"):
    objs, widths = [], []
    for s, kw, gap in pieces:
        o = fig.text(0, 0, s, va="center", ha="left", **kw)
        w = o.get_window_extent(renderer=renderer).width
        objs.append(o)
        widths.append(w + gap)
    x = x0 - sum(widths) if align == "right" else x0
    for o, w in zip(objs, widths):
        o.set_position((x / W, 1 - yc / H))
        x += w


def fl(x0, y0, x1, y1, color, lw=0.8, **kw):
    fig.add_artist(Line2D([x0 / W, x1 / W], [1 - y0 / H, 1 - y1 / H], color=color, lw=lw, **kw))


B = dict(fontweight="bold", color="#111111")
N = dict(color="#222222")
seq(10, 8.5, [("XLV", dict(fontsize=8.8, **B), 2),
              ("Health Care Select Sector SPDR Fund", dict(fontsize=5.4, **N), 2.5),
              ("NYSE", dict(fontsize=4.6, **N), 0)])
fig.text(10 / W, 1 - 17 / H, "13-Sep-2017", fontsize=5.0, color="#222222", va="center")
fig.text(591 / W, 1 - 7 / H, "\u00a9StockCharts.com", fontsize=5.0, color="#777777",
         va="center", ha="right")
sb, sn = dict(fontsize=5.3, **B), dict(fontsize=5.0, **N)
seq(591, 17, [("Open", sb, 1.5), ("81.41", sn, 3), ("High", sb, 1.5), ("83.41", sn, 3),
              ("Low", sb, 1.5), ("80.50", sn, 3), ("Close", sb, 1.5), ("83.05", sn, 3),
              ("Volume", sb, 1.5), ("54.0M", sn, 3), ("Chg", sb, 1.5),
              ("+1.76 (+2.17%)", sn, 1.5), ("\u25b2", dict(fontsize=3.6, color="#222222"), 0)],
    align="right")

T = dict(fontsize=5.2, color="#222222")
fig.add_artist(Polygon([[12 / W, 1 - 26.5 / H], [14 / W, 1 - 21.5 / H], [15.5 / W, 1 - 24 / H],
                        [17 / W, 1 - 21.5 / H], [17 / W, 1 - 26.5 / H]], closed=True,
                       fc="#789a78", ec="#3a5a3a", lw=0.4, transform=fig.transFigure))
seq(18.5, 24, [("RSI(14) 73.74", T, 0)])
fig.text(362 / W, 1 - 222 / H, "Rambus", fontsize=6.0, fontweight="bold", color="#111111",
         ha="center", va="center")

fl(13.5, 283.5, 13.5, 288.5, "#222222", 0.6)
fl(12.2, 285, 13.5, 285, "#222222", 0.6)
fl(13.5, 287, 14.8, 287, "#222222", 0.6)
fl(16.5, 284, 16.5, 289, "#222222", 0.6)
seq(19, 286.5, [("XLV (Monthly) 83.05", T, 0)])
fl(12, 294.5, 19, 294.5, "#4a4ad6", 0.8, dashes=(1, 1.2))
seq(19.5, 294.5, [("MA(12) 74.65", dict(fontsize=5.2, color="#3a3ac8"), 0)])

for k_, hgt in enumerate([3, 5, 4]):
    fig.add_artist(Rectangle(((12 + 1.6 * k_) / W, 1 - 561.5 / H), 1.2 / W, hgt / H,
                             fc="#555555", ec="none", transform=fig.transFigure))
seq(18.5, 559, [("Volume 54,037,812", T, 0)])

for yc, pieces in [
    (650.5, [("MACD(12,26,9) 4.264,", T, 1.6), ("3.472,", dict(fontsize=5.2, color="#ff2b2b"), 1.6),
             ("0.793", dict(fontsize=5.2, color="#2b9bd8"), 0)]),
    (742, [("Slow STO %K(14) %D(3) 96.43,", T, 1.6), ("93.97", dict(fontsize=5.2, color="#ff2b2b"), 0)]),
    (834, [("PMO(35,20,10) 10.12,", T, 1.6), ("10.12", dict(fontsize=5.2, color="#ff2b2b"), 0)]),
    (926, [("KST 149.69,", T, 1.6), ("136.38", dict(fontsize=5.2, color="#ff2b2b"), 0)]),
]:
    fl(12, yc, 17, yc, "#222222", 1.4)
    seq(19, yc, pieces)

fig.savefig("out.png", dpi=100, facecolor="white")
